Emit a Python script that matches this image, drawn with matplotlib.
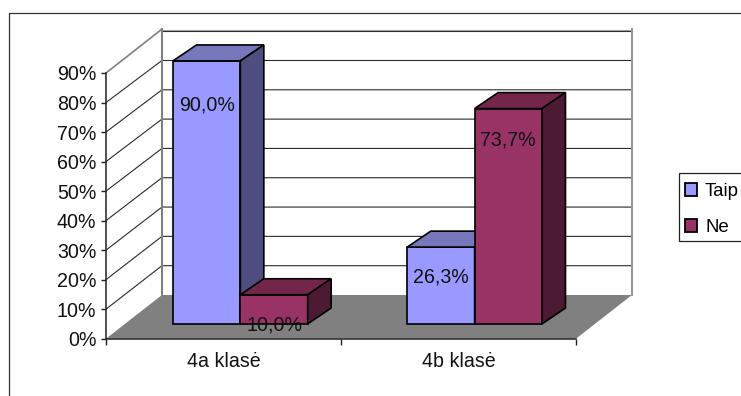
import matplotlib
matplotlib.use("Agg")
import matplotlib.pyplot as plt
from matplotlib.patches import Polygon, Rectangle
from matplotlib.transforms import IdentityTransform

plt.rcParams['font.family'] = ['Liberation Sans', 'DejaVu Sans']

categories = ["4a klasė", "4b klasė"]
series_names = ["Taip", "Ne"]
taip_values = [90.0, 26.3]
ne_values = [10.0, 73.7]
percent_ticks = [0, 10, 20, 30, 40, 50, 60, 70, 80, 90]

W, H = 741, 396
FS = 14.1

# oblique offset of the back wall, in data units
WALL_DX, WALL_DY = 0.238, 14.8
WALL_SCALE = 0.993
# the bars stand a bit in front of the wall
BAR_BASE = 5.0
BAR_SCALE = 0.99
BAR_W = 0.2866
BAR_DX, BAR_DY = 0.1, 5.4
GROUP_LEFT = [0.285, 1.282]

COLORS = {"Taip": ("#9999FF", "#7777BB", "#4D4D80"),
          "Ne": ("#993366", "#732649", "#4D1A33")}
# how far each value label sits under its bar top, in data units
LABEL_DROP = {"Taip": [14.8, 10.0], "Ne": [10.2, 10.6]}


def wall_y(v):
    return WALL_DY + v * WALL_SCALE


def draw_bar(ax, left, value, colors):
    front, top, side = colors
    h = value * BAR_SCALE + BAR_BASE
    right = left + BAR_W
    bars = ax.bar(left, value * BAR_SCALE, BAR_W, bottom=BAR_BASE, align="edge",
                  color=front, edgecolor="black", linewidth=1.2, zorder=5, clip_on=False)
    ax.add_patch(Polygon([(left, h), (left + BAR_DX, h + BAR_DY), (right + BAR_DX, h + BAR_DY), (right, h)],
                         facecolor=top, edgecolor="black", linewidth=1.2, zorder=5, clip_on=False))
    ax.add_patch(Polygon([(right, BAR_BASE), (right + BAR_DX, BAR_BASE + BAR_DY), (right + BAR_DX, h + BAR_DY), (right, h)],
                         facecolor=side, edgecolor="black", linewidth=1.2, zorder=5, clip_on=False))
    return bars


fig = plt.figure(figsize=(W / 100, H / 100), dpi=100)

# chart border runs off the right and bottom of the canvas
fig.add_artist(Rectangle((8.5, H - 13), W + 20, -(H + 20), transform=IdentityTransform(),
                         fill=False, edgecolor="#333333", linewidth=0.9))

ax = fig.add_axes([106 / W, (H - 338.7) / H, 470 / W, 265.7 / H])
ax.set_xlim(0, 2)
ax.set_ylim(0, 90)
ax.patch.set_visible(False)
for name in ["top", "right"]:
    ax.spines[name].set_visible(False)
for name in ["left", "bottom"]:
    ax.spines[name].set_linewidth(1.1)
    ax.spines[name].set_color("#222222")
    ax.spines[name].set_zorder(4)

# floor
ax.add_patch(Polygon([(0, 0), (2, 0), (2 + WALL_DX, WALL_DY), (WALL_DX, WALL_DY)],
                     facecolor="#808080", edgecolor="none", zorder=1, clip_on=False))

# gridlines on the back and side walls
for v in percent_ticks[1:-1]:
    ax.plot([0, WALL_DX, 2 + WALL_DX], [v, wall_y(v), wall_y(v)], color="#2a2a2a",
            lw=0.8, zorder=2, clip_on=False)
ax.plot([WALL_DX, 2 + WALL_DX], [wall_y(90), wall_y(90)], color="#2a2a2a", lw=0.8, zorder=2, clip_on=False)
ax.plot([WALL_DX, 2 + WALL_DX], [wall_y(90) + 0.5, wall_y(90) + 0.5], color="#a0a0a0", lw=0.8, zorder=2, clip_on=False)
ax.plot([WALL_DX, WALL_DX], [WALL_DY, wall_y(90) + 0.7], color="#808080", lw=1.5, zorder=3, clip_on=False)
ax.plot([2 + WALL_DX, 2 + WALL_DX], [WALL_DY, wall_y(90) + 0.7], color="#969696", lw=1.5, zorder=3, clip_on=False)
ax.plot([0, WALL_DX], [90, wall_y(90) + 0.7], color="#808080", lw=1.2, zorder=3, clip_on=False)

handles = []
for i, name in enumerate(series_names):
    values = taip_values if name == "Taip" else ne_values
    for g, v in enumerate(values):
        left = GROUP_LEFT[g] + i * BAR_W
        b = draw_bar(ax, left, v, COLORS[name])
        ax.text(left + BAR_W / 2, BAR_BASE + v * BAR_SCALE - LABEL_DROP[name][g],
                f"{v:.1f}%".replace(".", ","), ha="center", va="center", fontsize=FS,
                color="#111111", zorder=6)
    handles.append(b)

ax.set_yticks(percent_ticks)
ax.set_yticklabels([f"{v}%" for v in percent_ticks], fontsize=FS, color="#111111")
ax.tick_params(axis="y", length=3.6, width=1.0, pad=3.4, color="#222222")
ax.set_xticks([0, 1, 2])
ax.set_xticklabels([])
ax.set_xticks([0.5, 1.5], minor=True)
ax.set_xticklabels(categories, minor=True, fontsize=FS, color="#111111")
ax.tick_params(axis="x", which="major", length=4.5, width=1.0, color="#222222")
ax.tick_params(axis="x", which="minor", length=0, pad=9.7)

# legend box is cut by the right edge, so the frame is drawn on its own
fig.add_artist(Rectangle((678.5, H - 172.5), 90, -68.5, transform=IdentityTransform(),
                         facecolor="white", edgecolor="#222222", linewidth=0.9))
leg = fig.legend(handles, series_names, loc="upper left", bbox_to_anchor=(685 / W, 1 - 183 / H),
                 fontsize=13.4, frameon=False, borderaxespad=0, borderpad=0, labelspacing=1.03,
                 handlelength=0.66, handleheight=0.66, handletextpad=0.42)
for h in leg.legend_handles:
    h.set_linewidth(1.3)

fig.savefig("out.png", dpi=100)
